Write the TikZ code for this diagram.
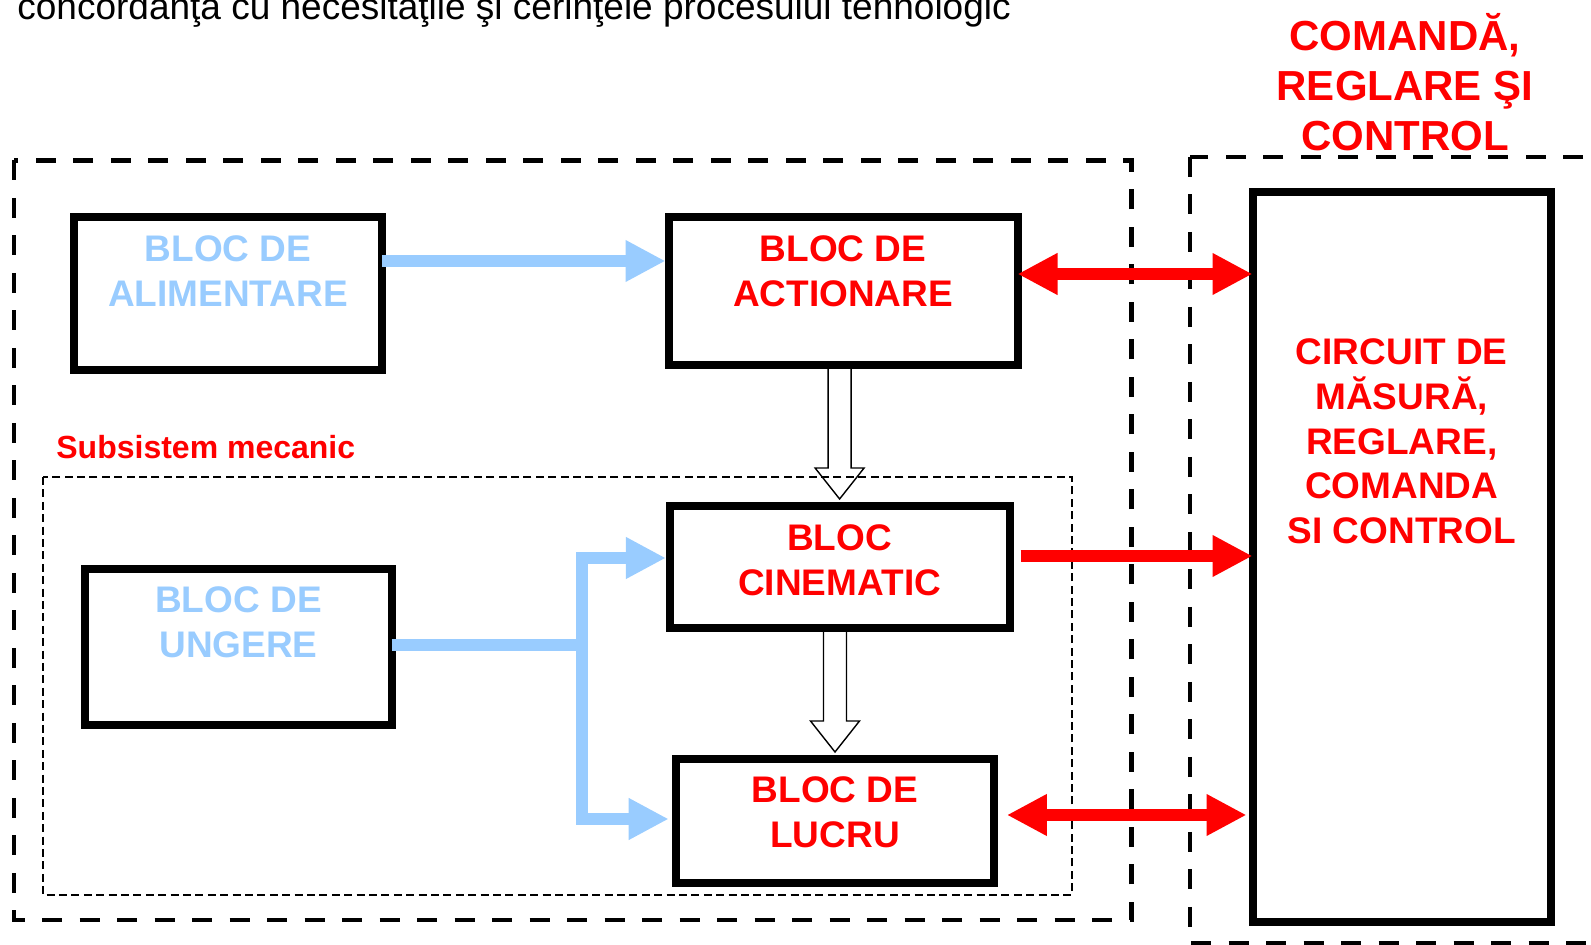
\documentclass[tikz,border=0pt]{standalone}
\usepackage{fontspec}
\setmainfont{Liberation Sans}
\usetikzlibrary{arrows.meta, calc}
\definecolor{lightblue}{HTML}{99CCFF}
\tikzstyle{block} = [rectangle, draw=black, line width=4pt, outer sep=0pt]
\tikzstyle{redtext} = [text=red, font=\bfseries\fontsize{18.5}{22.3}\selectfont, align=center]
\tikzstyle{bluetext} = [text=lightblue, font=\bfseries\fontsize{18.5}{22.3}\selectfont, align=center]
\tikzstyle{bluearrow} = [line width=6pt, draw=lightblue]
\tikzstyle{redarrow} = [line width=6pt, draw=red]
\tikzstyle{hollow} = [draw=black, line width=0.7pt, line join=miter]
\tikzstyle{bigdash} = [line width=2.2pt, dash pattern=on 10pt off 8.75pt]
\tikzstyle{smalldash} = [line width=0.65pt, dash pattern=on 4pt off 2.2pt]
% hollow arrow going down from #1 into #2
\newcommand{\hollowdown}[2]{%
\draw[hollow] ($(#2.north |- #1.south)+(-11.5,0)$) -- ($(#2.north)+(-11.5,-38)$) -- ($(#2.north)+(-24.5,-38)$) -- ($(#2.north)+(0,-7)$) -- ($(#2.north)+(24.5,-38)$) -- ($(#2.north)+(11.5,-38)$) -- ($(#2.north |- #1.south)+(11.5,0)$);}

\begin{document}
\begin{tikzpicture}[x=0.5pt, y=-0.5pt, >={Triangle[length=20pt,width=19.5pt]}]
\useasboundingbox (0,0) rectangle (1591,945);
\node[anchor=base west, inner sep=0pt, font=\fontsize{18.5}{20}\selectfont] (intro) at (17,20) {concordanţa cu necesitaţile şi cerinţele procesului tehnologic};
\node[text=red, font=\bfseries\fontsize{21}{24.9}\selectfont, align=center] (head) at (1405,82) {COMANDĂ,\\REGLARE ŞI\\CONTROL};

%containers
\draw[bigdash] (14,160.5) rectangle (1131.5,920);
\draw[bigdash] (1190,157) rectangle (1650,943.5);
\draw[smalldash] (43,477) rectangle (1072,895);
\node[anchor=base west, inner sep=0pt, text=red, font=\bfseries\fontsize{16}{19}\selectfont] (subsys) at (56,458.6) {Subsistem mecanic};

%blocks
\node[block, minimum width=154.25pt, minimum height=76.5pt] (ali) at (228,293.5) {};
\node[block, minimum width=174.5pt, minimum height=74pt] (act) at (843,291) {};
\node[block, minimum width=170pt, minimum height=61pt] (cin) at (839.6,567) {};
\node[block, minimum width=159.3pt, minimum height=62pt] (luc) at (835,821) {};
\node[block, minimum width=153.25pt, minimum height=78.25pt] (ung) at (238.5,647) {};
\node[block, minimum width=149.25pt, minimum height=365.35pt] (circ) at (1401.75,557.15) {};

\node[bluetext] (alitext) at ($(ali.center)+(0,-22.5)$) {BLOC DE\\ALIMENTARE};
\node[redtext] (acttext) at ($(act.center)+(0,-20)$) {BLOC DE\\ACTIONARE};
\node[redtext] (cintext) at ($(cin.center)+(0,-7)$) {BLOC\\CINEMATIC};
\node[redtext] (luctext) at ($(luc.center)+(0,-9)$) {BLOC DE\\LUCRU};
\node[bluetext] (ungtext) at ($(ung.center)+(0,-24.5)$) {BLOC DE\\UNGERE};
\node[redtext] (circtext) at ($(circ.center)+(0,-115.7)$) {CIRCUIT DE\\MĂSURĂ,\\REGLARE,\\COMANDA\\SI CONTROL};

%blue lines
\coordinate (alout) at ($(ali.east)+(0,-32.5)$);
\draw[bluearrow, ->] (alout) -- ($(act.west |- alout)+(-3,0)$);
\coordinate (split) at (581.5,645);
\coordinate (cinin) at ($(cin.west)+(-3.7,-9)$);
\coordinate (lucin) at ($(luc.west)+(-7,-2)$);
\draw[bluearrow] (ung.east |- split) -- (split);
\draw[bluearrow, <->] (cinin) -| (split) |- (lucin);

%hollow arrows
\hollowdown{act}{cin}
\hollowdown{cin}{luc}

%red arrows
\coordinate (actout) at ($(act.east)+(0,-17)$);
\draw[redarrow, <->] (actout) -- (actout -| circ.west);
\coordinate (cinout) at ($(cin.east)+(11,-11)$);
\draw[redarrow, ->] (cinout) -- (cinout -| circ.west);
\coordinate (lucout) at ($(luc.east)+(12.6,-6)$);
\draw[redarrow, <->] (lucout) -- ($(lucout -| circ.west)+(-6,0)$);
\end{tikzpicture}
\end{document}
